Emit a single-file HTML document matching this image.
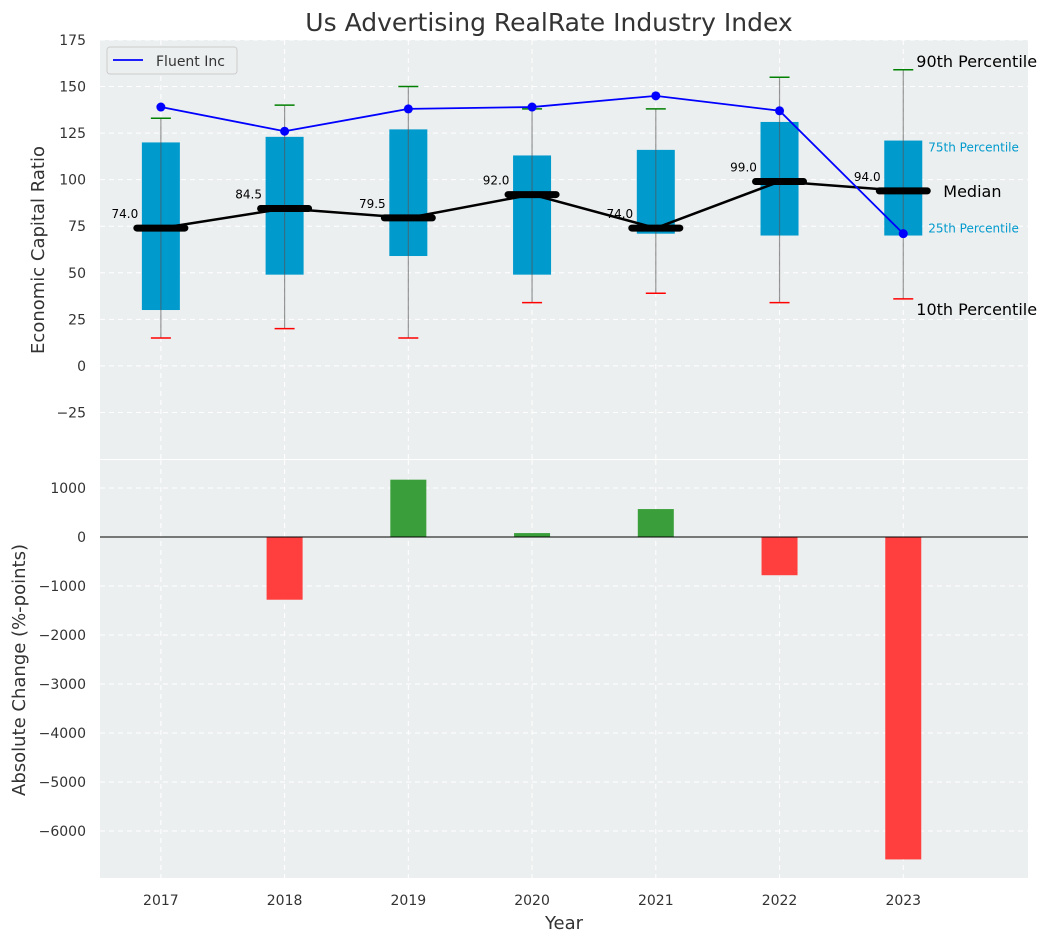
<!DOCTYPE html>
<html><head><meta charset="utf-8"><style>
body{margin:0;background:#fff}
svg{font-family:"DejaVu Sans","Liberation Sans",sans-serif}
</style></head><body>
<svg id="c" width="1054" height="942" xmlns="http://www.w3.org/2000/svg"></svg>
<script>
const years=[2017,2018,2019,2020,2021,2022,2023];
const q1=[30,49,59,49,71,70,70];
const q3=[120,123,127,113,116,131,121];
const med=[74,84.5,79.5,92,74,99,94];
const p10=[15,20,15,34,39,34,36];
const p90=[133,140,150,138,138,155,159];
const fluent=[139,126,138,139,145,137,71];
const change=[0,-1280,1170,80,570,-780,-6580];
const topTicks=[-25,0,25,50,75,100,125,150,175];
const botTicks=[1000,0,-1000,-2000,-3000,-4000,-5000,-6000];

const L=100,R=1028,T1=40,B1=459,T2=460,B2=878;
const x=v=>L+(v-2016.5)/(2024-2016.5)*(R-L)-1;
const y1=v=>T1+(175-v)/(175+50)*(B1-T1);
const y2=v=>537+(0-v)*0.049;
const svg=document.getElementById('c');
const NS='http://www.w3.org/2000/svg';
function el(tag,attrs,txt){const e=document.createElementNS(NS,tag);for(const k in attrs)e.setAttribute(k,attrs[k]);if(txt!==undefined)e.textContent=txt;svg.appendChild(e);return e;}

let e;
e=el('rect',{x:L,y:T1,width:R-L,height:B1-T1,fill:'#eceff0'});


e=el('rect',{x:L,y:T2,width:R-L,height:B2-T2,fill:'#eceff0'});


years.forEach(v=>{
 e=el('line',{x1:x(v),x2:x(v),y1:T1,y2:B1,stroke:'#fff','stroke-dasharray':'5,4','stroke-width':1});
 
 
 e=el('line',{x1:x(v),x2:x(v),y1:T2,y2:B2,stroke:'#fff','stroke-dasharray':'5,4','stroke-width':1});
 
 
 e=el('text',{x:x(v),y:905,'text-anchor':'middle','font-size':14,fill:'#333'},v);
 
 
});
topTicks.forEach(v=>{
 e=el('line',{x1:L,x2:R,y1:y1(v),y2:y1(v),stroke:'#fff','stroke-dasharray':'5,4'});
 
 
 e=el('text',{x:86,y:y1(v)+5,'text-anchor':'end','font-size':14,fill:'#333'},v<0?'\u2212'+(-v):v);
 
 
});
botTicks.forEach(v=>{
 e=el('line',{x1:L,x2:R,y1:y2(v),y2:y2(v),stroke:'#fff','stroke-dasharray':'5,4'});
 
 
 e=el('text',{x:86,y:y2(v)+5,'text-anchor':'end','font-size':14,fill:'#333'},v<0?'\u2212'+(-v):v);
 
 
});
years.forEach((v,i)=>{
 const cx=x(v);
 e=el('rect',{x:cx-19,y:y1(q3[i]),width:38,height:y1(q1[i])-y1(q3[i]),fill:'#009acd'});
 
 
 e=el('line',{x1:cx,x2:cx,y1:y1(p10[i]),y2:y1(p90[i]),stroke:'#555','stroke-opacity':0.6,'stroke-width':1.2});
 
 
 e=el('line',{x1:cx-10,x2:cx+10,y1:y1(p10[i]),y2:y1(p10[i]),stroke:'red','stroke-width':1.5});
 
 
 e=el('line',{x1:cx-10,x2:cx+10,y1:y1(p90[i]),y2:y1(p90[i]),stroke:'green','stroke-width':1.5});
 
 
});
e=el('polyline',{points:years.map((v,i)=>x(v)+','+y1(med[i])).join(' '),fill:'none',stroke:'#000','stroke-width':2.5});


years.forEach((v,i)=>{
 const cx=x(v);
 e=el('line',{x1:cx-24,x2:cx+24,y1:y1(med[i]),y2:y1(med[i]),stroke:'#000','stroke-width':7,'stroke-linecap':'round'});
 
 
 e=el('text',{x:cx-36,y:y1(med[i])-10,'text-anchor':'middle','font-size':12,fill:'#000'},med[i].toFixed(1));
 
 
});
e=el('polyline',{points:years.map((v,i)=>x(v)+','+y1(fluent[i])).join(' '),fill:'none',stroke:'#0000ff','stroke-width':1.8});


years.forEach((v,i)=>{
 e=el('circle',{cx:x(v),cy:y1(fluent[i]),r:4.5,fill:'#0000ff'});
 
 
});
const lx=x(2023);
e=el('text',{x:lx+13,y:y1(p90[6])-3,'font-size':16},'90th Percentile');


e=el('text',{x:lx+13,y:y1(p10[6])+16,'font-size':16},'10th Percentile');


e=el('text',{x:lx+40,y:y1(med[6])+6,'font-size':16},'Median');


e=el('text',{x:lx+25,y:y1(q3[6])+11,'font-size':12,fill:'#009acd'},'75th Percentile');


e=el('text',{x:lx+25,y:y1(q1[6])-3,'font-size':12,fill:'#009acd'},'25th Percentile');


e=el('rect',{x:107,y:47,width:130,height:27,rx:3,fill:'#eceff0',stroke:'#ccc'});


e=el('line',{x1:113,x2:143,y1:60,y2:60,stroke:'#0000ff','stroke-width':1.8});


e=el('text',{x:156,y:66,'font-size':14,fill:'#333'},'Fluent Inc');


years.forEach((v,i)=>{
 const c=change[i];
 e=el('rect',{x:x(v)-18,y:Math.min(y2(c),y2(0)),width:36,height:Math.abs(y2(c)-y2(0)),fill:c>=0?'#3a9e3a':'#ff3e3e'});
 
 
});
e=el('line',{x1:L,x2:R,y1:y2(0),y2:y2(0),stroke:'#000','stroke-width':1});


e=el('text',{x:549,y:31,'text-anchor':'middle','font-size':25,fill:'#333'},'Us Advertising RealRate Industry Index');


e=el('text',{x:564,y:929,'text-anchor':'middle','font-size':18,fill:'#333'},'Year');


e=el('text',{x:44,y:250,'text-anchor':'middle','font-size':18,fill:'#333',transform:'rotate(-90 44 250)'},'Economic Capital Ratio');


e=el('text',{x:25,y:670,'text-anchor':'middle','font-size':18,fill:'#333',transform:'rotate(-90 25 670)'},'Absolute Change (%-points)');


</script>
</body></html>
